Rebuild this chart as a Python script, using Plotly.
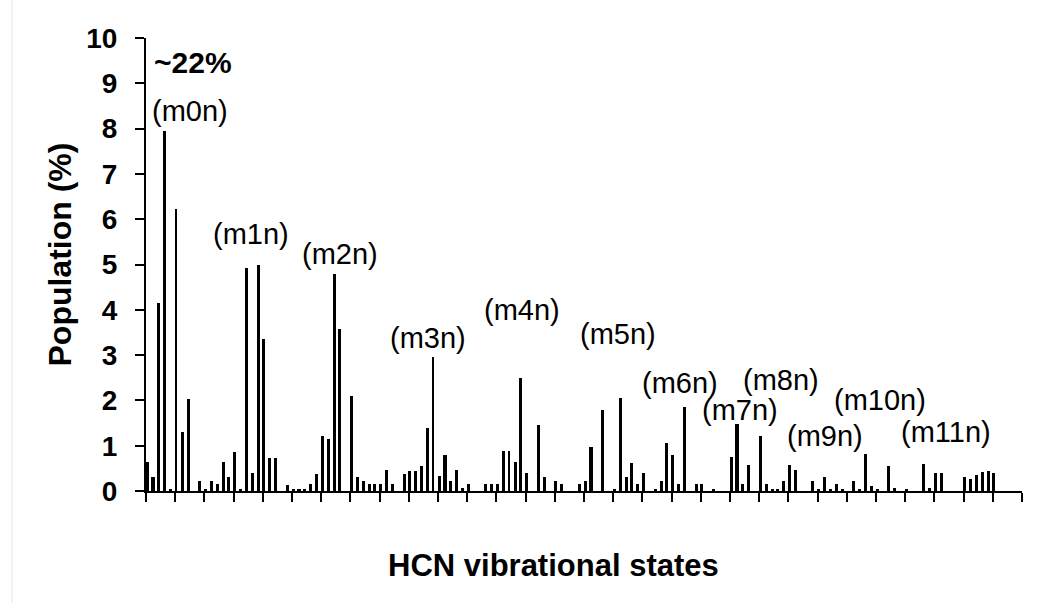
import plotly.graph_objects as go

# ---- data ----
states = list(range(150))  # HCN vibrational state index (category)
population = [
    0.65, 0.32, 4.15, 7.95, 0.04, 6.22, 1.30, 2.03, 0.00, 0.22,
    0.05, 0.22, 0.15, 0.63, 0.32, 0.87, 0.04, 4.92, 0.39, 4.98,
    3.35, 0.73, 0.73, 0.00, 0.13, 0.05, 0.05, 0.05, 0.15, 0.38,
    1.21, 1.14, 4.80, 3.57, 0.00, 2.10, 0.32, 0.22, 0.15, 0.15,
    0.15, 0.46, 0.15, 0.00, 0.38, 0.44, 0.44, 0.55, 1.38, 2.96,
    0.33, 0.80, 0.22, 0.46, 0.06, 0.15, 0.00, 0.00, 0.15, 0.15,
    0.15, 0.88, 0.88, 0.63, 2.49, 0.39, 0.00, 1.45, 0.32, 0.00,
    0.22, 0.15, 0.00, 0.00, 0.15, 0.22, 0.98, 0.00, 1.79, 0.00,
    0.05, 2.06, 0.32, 0.62, 0.15, 0.39, 0.00, 0.05, 0.22, 1.05,
    0.79, 0.15, 1.86, 0.00, 0.15, 0.15, 0.00, 0.05, 0.00, 0.00,
    0.74, 1.47, 0.15, 0.57, 0.00, 1.21, 0.15, 0.05, 0.05, 0.22,
    0.57, 0.46, 0.00, 0.00, 0.22, 0.05, 0.32, 0.05, 0.15, 0.05,
    0.00, 0.22, 0.05, 0.81, 0.12, 0.05, 0.00, 0.55, 0.07, 0.00,
    0.04, 0.00, 0.00, 0.60, 0.07, 0.40, 0.40, 0.00, 0.00, 0.00,
    0.30, 0.27, 0.35, 0.42, 0.45, 0.40, 0.00, 0.00, 0.00, 0.00,
]
group_labels = ["(m0n)", "(m1n)", "(m2n)", "(m3n)", "(m4n)", "(m5n)",
                "(m6n)", "(m7n)", "(m8n)", "(m9n)", "(m10n)", "(m11n)"]
peak_note = "~22%"
y_ticks = list(range(0, 11))

# ---- styling / layout (not data) ----
thin_states = [5, 49, 62]
label_pos = [(7.1, 8.39), (17.4, 5.67), (32.7, 5.23), (47.8, 3.38), (63.8, 4.0),
             (80.3, 3.47), (90.9, 2.38), (101.2, 1.79), (108.2, 2.45), (115.8, 1.21),
             (125.2, 2.01), (136.5, 1.30)]
note_pos = (7.55, 9.45)

FONT = "Arial, Liberation Sans, sans-serif"
widths = [0.2 if s in thin_states else 0.52 for s in states]
offsets = [-0.3 - w / 2 for w in widths]

fig = go.Figure(go.Bar(
    x=states, y=population, width=widths, offset=offsets,
    marker=dict(color="black", line=dict(width=0)),
    hoverinfo="x+y",
))

annotations = []
for txt, (ax, ay) in zip(group_labels, label_pos):
    annotations.append(dict(x=ax, y=ay, xref="x", yref="y", text=txt, showarrow=False,
                            font=dict(family=FONT, size=29, color="black"),
                            xanchor="center", yanchor="middle"))
annotations.append(dict(x=note_pos[0], y=note_pos[1], xref="x", yref="y",
                        text="<b>" + peak_note + "</b>", showarrow=False,
                        font=dict(family=FONT, size=30, color="black"),
                        xanchor="center", yanchor="middle"))
annotations.append(dict(x=(59.5 - 146) / 876, y=(491 - 255) / 453, xref="paper", yref="paper",
                        text="<b>Population (%)</b>", textangle=-90, showarrow=False,
                        font=dict(family=FONT, size=32, color="black"),
                        xanchor="center", yanchor="middle"))
annotations.append(dict(x=(553 - 146) / 876, y=(491 - 565) / 453, xref="paper", yref="paper",
                        text="<b>HCN vibrational states</b>", showarrow=False,
                        font=dict(family=FONT, size=31, color="black"),
                        xanchor="center", yanchor="middle"))

fig.update_layout(
    width=1043, height=603,
    margin=dict(l=146, r=21, t=38, b=112),
    paper_bgcolor="white", plot_bgcolor="white",
    showlegend=False,
    bargap=0,
    annotations=annotations,
    shapes=[dict(type="line", xref="paper", yref="paper",
                 x0=(12 - 146) / 876, x1=(12 - 146) / 876, y0=-0.25, y1=1.09,
                 line=dict(color="#e4e4e4", width=1))],
)
fig.update_xaxes(
    range=[-0.5, 149.5], tick0=-0.5, dtick=5, tickmode="linear",
    showticklabels=False, ticks="outside", ticklen=9, tickwidth=2, tickcolor="black",
    showline=True, linecolor="black", linewidth=2, showgrid=False, zeroline=False,
)
fig.update_yaxes(
    range=[0, 10], tickvals=y_ticks, ticks="outside", ticklen=9, tickwidth=2,
    tickcolor="black", showline=True, linecolor="black", linewidth=2,
    showgrid=False, zeroline=False, ticklabelstandoff=12,
    tickfont=dict(family=FONT, size=28, color="black", weight="bold"),
)

fig.write_html("out.html")
